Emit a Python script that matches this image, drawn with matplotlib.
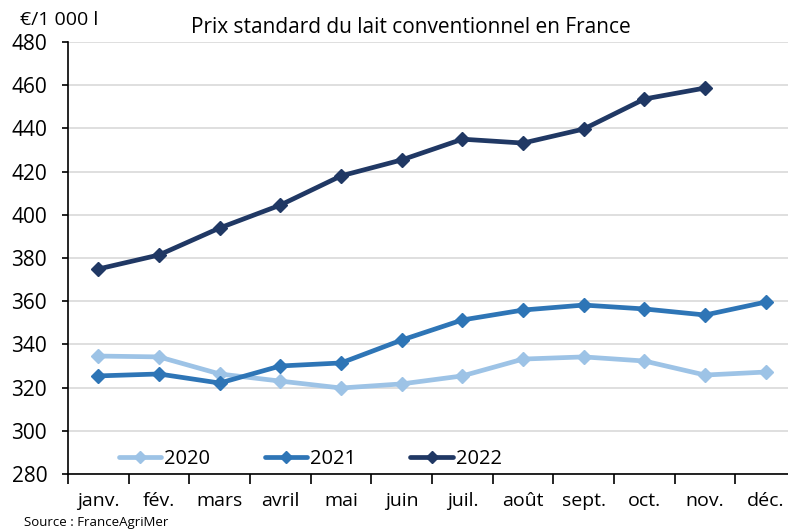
import matplotlib
matplotlib.use("Agg")
import matplotlib.pyplot as plt

# monthly standard milk price, EUR per 1000 l
months = ["janv.", "fév.", "mars", "avril", "mai", "juin",
          "juil.", "août", "sept.", "oct.", "nov.", "déc."]
prix_2020 = [334.6, 334.2, 326.3, 323.0, 319.8, 321.7, 325.4, 333.2, 334.2, 332.3, 325.8, 327.2]
prix_2021 = [325.4, 326.3, 322.1, 330.0, 331.4, 342.0, 351.3, 355.9, 358.2, 356.4, 353.6, 359.6]
prix_2022 = [374.9, 381.4, 393.9, 404.5, 418.0, 425.4, 435.0, 433.2, 439.7, 453.6, 458.7]

plt.rcParams['font.family'] = ['Open Sans', 'DejaVu Sans']

fig = plt.figure(figsize=(7.88, 5.30), dpi=100)
ax = fig.add_axes([0.0863, 0.1057, 0.924, 0.8151])

series = [(prix_2020, "#9dc3e6", "2020"),
          (prix_2021, "#2e75b6", "2021"),
          (prix_2022, "#203864", "2022")]
for vals, col, lab in series:
    ax.plot(range(len(vals)), vals, color=col, lw=3.4, marker="D", ms=7.5,
            label=lab, solid_capstyle="round")

ax.set_xlim(-0.5, 11.5)
ax.set_ylim(280, 480)
ax.set_yticks(range(280, 481, 20))
ax.set_xticks(range(12))
ax.set_xticklabels(months, fontsize=14)
ax.set_xticks([i - 0.5 for i in range(13)], minor=True)
ax.tick_params(axis="x", which="major", length=0, pad=13)
ax.tick_params(axis="x", which="minor", length=7, width=1.2, direction="out")
ax.tick_params(axis="y", labelsize=15, length=4, width=1.2, pad=11)

ax.grid(axis="y", color="#d9d9d9", lw=1.2)
ax.set_axisbelow(True)
for s in ["top", "right"]:
    ax.spines[s].set_visible(False)
ax.spines["left"].set_linewidth(1.2)
ax.spines["bottom"].set_linewidth(1.2)

ax.legend(loc="lower left", bbox_to_anchor=(0.045, -0.03), ncol=3, frameon=False,
          fontsize=14.5, handlelength=2.1, handletextpad=0.15, columnspacing=2.7,
          markerscale=0.75)

fig.text(0.522, 0.949, "Prix standard du lait conventionnel en France",
         ha="center", va="center", fontsize=15)
fig.text(0.025, 0.962, "€/1 000 l", fontsize=14, va="center")
fig.text(0.03, 0.001, "Source : FranceAgriMer", fontsize=9.5, va="bottom")

fig.savefig("out.png", dpi=100)
